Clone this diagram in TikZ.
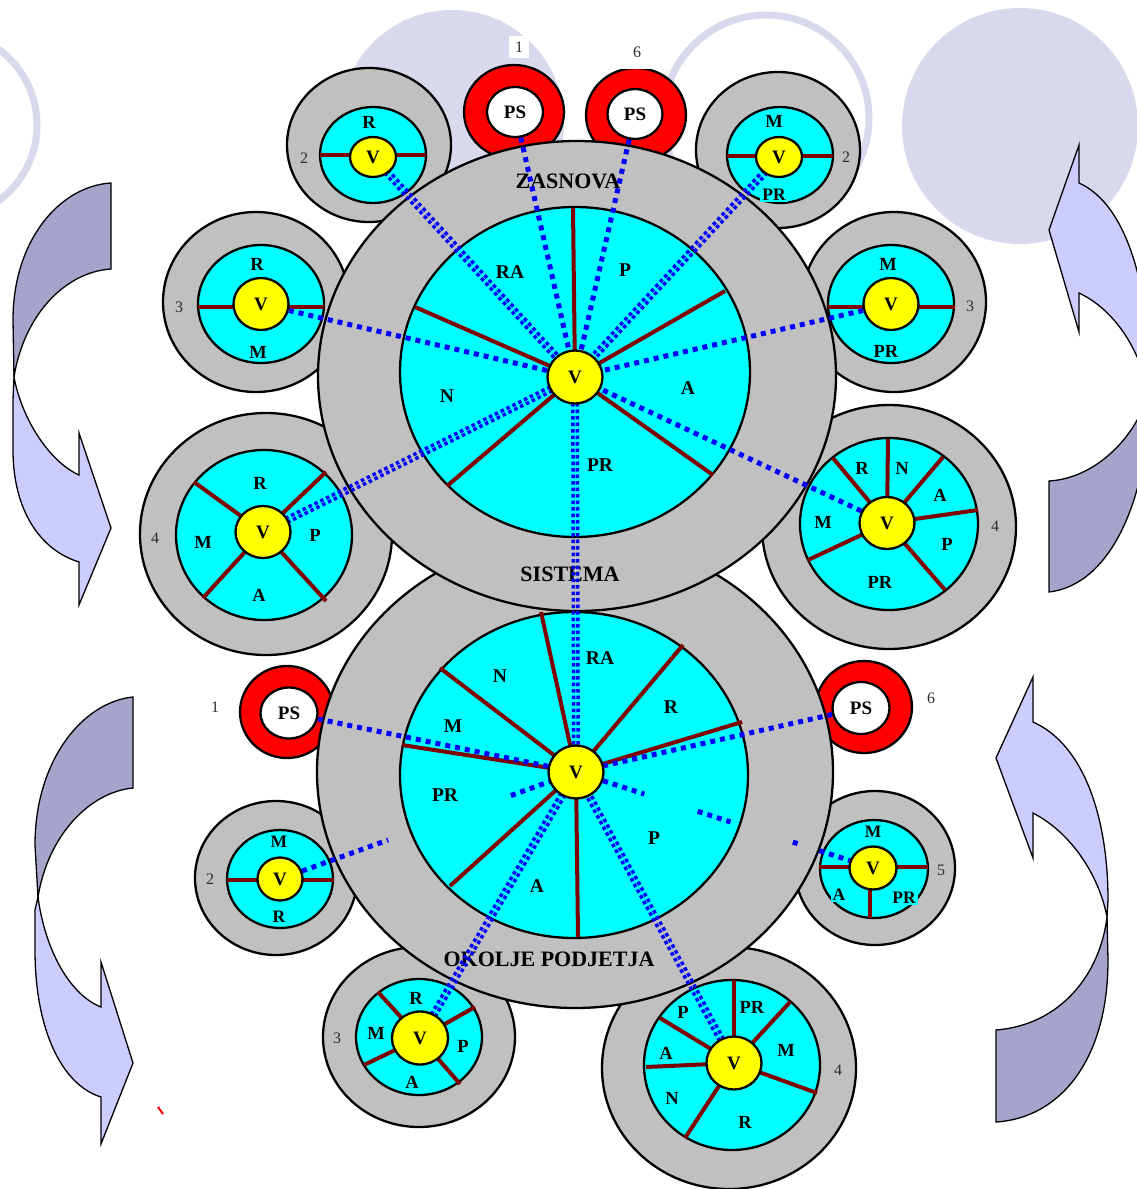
\documentclass[tikz,border=0pt]{standalone}
\usepackage{fontspec}
\setmainfont{Liberation Serif}
\usetikzlibrary{shapes.geometric,calc}
\pgfdeclarelayer{bgl}\pgfdeclarelayer{lin}\pgfdeclarelayer{topl}
\pgfsetlayers{bgl,main,lin,topl}
\definecolor{lav}{RGB}{217,217,238}
\definecolor{arrD}{RGB}{165,165,204}
\definecolor{arrL}{RGB}{204,204,255}
\definecolor{gbg}{RGB}{192,192,192}
\definecolor{cy}{RGB}{0,255,255}
\definecolor{yl}{RGB}{255,255,0}
\definecolor{spk}{RGB}{128,0,0}
\definecolor{rd}{RGB}{255,0,0}
\definecolor{bl}{RGB}{0,0,255}
\definecolor{numc}{RGB}{45,45,45}
\tikzset{
  gdisc/.style={fill=gbg, draw=black, line width=2.3pt},
  cdisc/.style={fill=cy, draw=black, line width=2.3pt},
  rdisc/.style={fill=rd, draw=black, line width=2.3pt},
  spoke/.style={draw=spk, line width=4pt},
  vn/.style={ellipse, fill=yl, draw=black, line width=2.3pt, inner sep=0pt, font=\fontsize{19}{19}\selectfont\bfseries},
  psn/.style={ellipse, fill=white, draw=black, line width=2.3pt, inner sep=0pt, font=\fontsize{19}{19}\selectfont\bfseries},
  lb/.style={inner sep=0pt, font=\fontsize{18.5}{18.5}\selectfont\bfseries},
  lbb/.style={inner sep=0pt, font=\fontsize{19.5}{19.5}\selectfont\bfseries},
  lbc/.style={fill=cy, inner xsep=2pt, inner ysep=1pt, font=\fontsize{17.5}{17.5}\selectfont\bfseries},
  nm/.style={inner sep=1pt, font=\fontsize{16}{16}\selectfont, text=numc},
  big/.style={inner sep=0pt, font=\fontsize{22}{22}\selectfont\bfseries},
  arD/.style={fill=arrD, draw=black, line width=1.3pt},
  arL/.style={fill=arrL, draw=black, line width=1.3pt},
  bd/.style={draw=bl, line width=5pt, dash pattern=on 5pt off 5pt},
  bdd/.style={draw=bl, line width=3.5pt, dash pattern=on 3.5pt off 3pt}
}
\begin{document}
\begin{tikzpicture}[x=1pt,y=-1pt]
\useasboundingbox (0,0) rectangle (1137,1189);

\begin{pgfonlayer}{bgl}
\fill[white] (0,0) rectangle (1137,1189);
% background decorations
\fill[lav] (452,122) circle [radius=112pt];
\draw[lav, line width=7pt] (-57,125) circle [radius=94pt];
\draw[lav, line width=7pt] (766,118) circle [radius=103pt];
\fill[lav] (1020,126) circle [radius=118pt];
% left top arrow
\draw[arD] (111,183) .. controls (60,186) and (13,240) .. (13,320) -- (14,377)
  .. controls (24,315) and (65,272) .. (111,269) -- cycle;
\draw[arL] (14,377) -- (13,400) -- (13,450) .. controls (13,510) and (40,550) .. (79,562)
  -- (79,605) -- (111,528) -- (79,433) -- (79,475) .. controls (50,462) and (22,420) .. (14,377) -- cycle;
% left bottom arrow
\draw[arD] (133,697) .. controls (83,702) and (35,760) .. (35,845) -- (38,897)
  .. controls (48,835) and (90,792) .. (133,788) -- cycle;
\draw[arL] (38,897) -- (35,910) -- (35,950) .. controls (35,1030) and (62,1085) .. (101,1097)
  -- (101,1144) -- (133,1063) -- (101,962) -- (101,1007) .. controls (70,995) and (45,950) .. (38,897) -- cycle;
% right top arrow
\draw[arL] (1079,183) .. controls (1128,205) and (1150,290) .. (1150,385) -- (1148,392)
  .. controls (1140,350) and (1115,310) .. (1079,293) -- (1079,332) -- (1049,230) -- (1079,145) -- cycle;
\draw[arD] (1150,385) .. controls (1150,500) and (1110,585) .. (1049,592) -- (1049,481)
  .. controls (1100,478) and (1140,430) .. (1148,392) -- cycle;
% right bottom arrow
\draw[arL] (1033,722) .. controls (1085,745) and (1108,820) .. (1108,900) -- (1107,917)
  .. controls (1100,880) and (1075,835) .. (1033,813) -- (1033,858) -- (996,758) -- (1033,677) -- cycle;
\draw[arD] (1107,917) -- (1108,960) .. controls (1108,1060) and (1060,1118) .. (996,1122) -- (996,1030)
  .. controls (1060,1025) and (1100,975) .. (1107,917) -- cycle;
\end{pgfonlayer}

% ---------- upper satellites ----------
% u2L
\draw[gdisc] (369,145) ellipse [x radius=82pt, y radius=77pt];
\draw[cdisc] (373,155) ellipse [x radius=53pt, y radius=48pt];
\draw[spoke] (320,155) -- (426,155);
\node[lb] (u2Lr) at (369,122) {R};
\node[nm] (u2Ln) at (304,158) {2};
% u2R
\draw[gdisc] (778,150) ellipse [x radius=82pt, y radius=78pt];
\draw[cdisc] (780,155) ellipse [x radius=53pt, y radius=48pt];
\draw[spoke] (727,156) -- (833,156);
\node[lb] (u2Rm) at (774,121) {M};
\node[lbc] (u2Rp) at (774,195) {PR};
\node[nm] (u2Rn) at (846,157) {2};
% PS rings top
\draw[rdisc] (514,112) ellipse [x radius=50pt, y radius=47pt];
\draw[rdisc] (636,115) ellipse [x radius=50pt, y radius=47pt];
\node[nm, fill=white, minimum width=20pt, minimum height=22pt] (n1t) at (519,47) {1};
\node[nm, fill=white, minimum width=48pt, minimum height=34pt] (n6t) at (637,52) {6};
% u3L
\draw[gdisc] (256,302) ellipse [x radius=93pt, y radius=90pt];
\draw[cdisc] (261,304) ellipse [x radius=63pt, y radius=59pt];
\draw[spoke] (198,307) -- (324,307);
\node[lb] (u3Lr) at (257,264) {R};
\node[lb] (u3Lm) at (258,352) {M};
\node[nm] (u3Ln) at (179,307) {3};
% u3R
\draw[gdisc] (894,302) ellipse [x radius=92pt, y radius=90pt];
\draw[cdisc] (891,304) ellipse [x radius=63pt, y radius=59pt];
\draw[spoke] (828,307) -- (955,307);
\node[lb] (u3Rm) at (888,264) {M};
\node[lb] (u3Rp) at (886,351) {PR};
\node[nm] (u3Rn) at (970,306) {3};
% u4L
\draw[gdisc] (266,534) ellipse [x radius=126pt, y radius=121pt];
\draw[cdisc] (264,535) ellipse [x radius=88pt, y radius=85pt];
\coordinate (cu4L) at (263,532);
\foreach \p in {(194,482),(326,472),(203,598),(326,601)} \draw[spoke] (cu4L) -- \p;
\node[lb] (u4Lr) at (260,483) {R};
\node[lb] (u4Lm) at (203,542) {M};
\node[lb] (u4Lp) at (315,535) {P};
\node[lb] (u4La) at (259,595) {A};
\node[nm] (u4Ln) at (155,538) {4};
% u4R
\draw[gdisc] (889,527) ellipse [x radius=127pt, y radius=122pt];
\draw[cdisc] (889,524) ellipse [x radius=89pt, y radius=86pt];
\coordinate (cu4R) at (887,523);
\foreach \p in {(888,439),(833,458),(943,457),(978,510),(945,590),(808,560)} \draw[spoke] (cu4R) -- \p;
\node[lb] (u4Rr) at (862,468) {R};
\node[lb] (u4Rnn) at (902,468) {N};
\node[lb] (u4Ra) at (940,495) {A};
\node[lb] (u4Rp) at (947,544) {P};
\node[lb] (u4Rpr) at (880,582) {PR};
\node[lb] (u4Rm) at (823,522) {M};
\node[nm] (u4Rn) at (995,526) {4};

% ---------- lower satellites ----------
\draw[rdisc] (287,712) ellipse [x radius=47pt, y radius=46pt];
\node[nm] (n1l) at (215,707) {1};
\draw[rdisc] (864,707) ellipse [x radius=48pt, y radius=46pt];
\node[nm] (n6l) at (931,698) {6};
% S2L
\draw[gdisc] (276,878) ellipse [x radius=81pt, y radius=77pt];
\draw[cdisc] (280,879) ellipse [x radius=53pt, y radius=49pt];
\draw[spoke] (227,880) -- (334,880);
\node[lbc] (s2m) at (279,842) {M};
\node[lbc] (s2r) at (279,917) {R};
\node[nm] (s2n) at (210,879) {2};
% S5
\draw[gdisc] (875,868) ellipse [x radius=80pt, y radius=77pt];
\draw[cdisc] (874,869) ellipse [x radius=54pt, y radius=49pt];
\draw[spoke] (819,867) -- (928,867);
\draw[spoke] (870,868) -- (870,918);
\node[lbc] (s5m) at (873,832) {M};
\node[lbc] (s5a) at (839,895) {A};
\node[lbc] (s5p) at (904,898) {PR};
\node[nm] (s5n) at (941,870) {5};
% S3L
\draw[gdisc] (419,1037) ellipse [x radius=96pt, y radius=90pt];
\draw[cdisc] (419,1037) ellipse [x radius=63pt, y radius=58pt];
\coordinate (cs3) at (420,1038);
\foreach \p in {(378,992),(475,1007),(364,1065),(460,1084)} \draw[spoke] (cs3) -- \p;
\node[lb] (s3r) at (416,998) {R};
\node[lb] (s3m) at (376,1033) {M};
\node[lb] (s3p) at (463,1046) {P};
\node[lb] (s3a) at (412,1082) {A};
\node[nm] (s3n) at (337,1038) {3};
% S4L
\draw[gdisc] (729,1068) ellipse [x radius=127pt, y radius=121pt];
\draw[cdisc] (732,1065) ellipse [x radius=88pt, y radius=85pt];
\coordinate (cs4) at (734,1063);
\foreach \p in {(734,980),(790,1002),(817,1093),(685,1138),(646,1067),(660,1018)} \draw[spoke] (cs4) -- \p;
\node[lb] (s4p) at (683,1012) {P};
\node[lb] (s4pr) at (752,1007) {PR};
\node[lb] (s4m) at (786,1050) {M};
\node[lb] (s4a) at (666,1053) {A};
\node[lb] (s4nn) at (672,1098) {N};
\node[lb] (s4r) at (745,1122) {R};
\node[nm] (s4n) at (838,1070) {4};

% ---------- big lower ----------
\draw[gdisc] (575,772) ellipse [x radius=258pt, y radius=236pt];
\draw[cdisc] (574,775) ellipse [x radius=174pt, y radius=163pt];
\coordinate (cl) at (576,772);
\foreach \p in {(541,612),(683,645),(742,722),(578,937),(450,886),(402,745),(440,668)} \draw[spoke] (cl) -- \p;
\node[lbb] (lra) at (600,658) {RA};
\node[lbb] (lnn) at (500,676) {N};
\node[lbb] (lr) at (671,707) {R};
\node[lbb] (lm) at (453,726) {M};
\node[lbb] (lpr) at (445,795) {PR};
\node[lbb] (lp) at (654,838) {P};
\node[lbb] (la) at (537,886) {A};
\node[big] (okolje) at (549,959) {OKOLJE PODJETJA};

% ---------- big upper ----------
\draw[gdisc] (577,376) ellipse [x radius=259pt, y radius=235pt];
\draw[cdisc] (575,372) ellipse [x radius=175pt, y radius=165pt];
\coordinate (cu) at (575,377);
\foreach \p in {(573,208),(725,291),(713,475),(447,486),(415,307)} \draw[spoke] (cu) -- \p;
\node[lbb] (ura) at (510,272) {RA};
\node[lbb] (up) at (625,270) {P};
\node[lbb] (ua) at (688,388) {A};
\node[lbb] (upr) at (600,465) {PR};
\node[lbb] (unn) at (447,396) {N};
\node[big] (zasnova) at (568,181) {ZASNOVA};
\node[big] (sistema) at (570,574) {SISTEMA};

\draw[rd, line width=2pt] (158,1107) -- (163,1114);

% ---------- top layer: V and PS nodes ----------
\begin{pgfonlayer}{topl}
\node[vn, minimum width=46pt, minimum height=40pt] (u2LV) at (373,157) {V};
\node[vn, minimum width=46pt, minimum height=40pt] (u2RV) at (779,157) {V};
\node[psn, minimum width=56pt, minimum height=50pt] (ps1) at (515,112) {PS};
\node[psn, minimum width=55pt, minimum height=50pt] (ps6) at (635,114) {PS};
\node[vn, minimum width=55pt, minimum height=52pt] (u3LV) at (261,304) {V};
\node[vn, minimum width=55pt, minimum height=52pt] (u3RV) at (891,304) {V};
\node[vn, minimum width=55pt, minimum height=52pt] (u4LV) at (cu4L) {V};
\node[vn, minimum width=55pt, minimum height=52pt] (u4RV) at (cu4R) {V};
\node[psn, minimum width=57pt, minimum height=51pt] (ps1l) at (289,713) {PS};
\node[psn, minimum width=57pt, minimum height=52pt] (ps6l) at (861,708) {PS};
\node[vn, minimum width=45pt, minimum height=43pt] (s2V) at (280,879) {V};
\node[vn, minimum width=47pt, minimum height=43pt] (s5V) at (873,868) {V};
\node[vn, minimum width=56pt, minimum height=53pt] (s3V) at (cs3) {V};
\node[vn, minimum width=55pt, minimum height=53pt] (s4V) at (cs4) {V};
\node[vn, minimum width=55pt, minimum height=53pt] (Vl) at (cl) {V};
\node[vn, minimum width=55pt, minimum height=53pt] (Vu) at (cu) {V};
\end{pgfonlayer}

% ---------- dotted connectors ----------
\begin{pgfonlayer}{lin}
\draw[bd] (ps1) -- (Vu);
\draw[bd] (ps6) -- (Vu);
\draw[bd] (u3LV) -- (Vu);
\draw[bd] (u3RV) -- (Vu);
\draw[bd] (u4RV) -- (Vu);
\foreach \a/\b in {u2LV/Vu, u2RV/Vu, u4LV/Vu, Vu/Vl, s3V/Vl, s4V/Vl}{
  \draw[bdd] ($(\a.center)!2.2pt!90:(\b.center)$) -- ($(\b.center)!2.2pt!-90:(\a.center)$);
  \draw[bdd] ($(\a.center)!2.2pt!-90:(\b.center)$) -- ($(\b.center)!2.2pt!90:(\a.center)$);
}
\draw[bd] (ps1l) -- (Vl);
\draw[bd] (ps6l) -- (Vl);
\draw[bd] (s2V) -- ($(s2V.center)!0.365!(Vl.center)$);
\draw[bd] ($(s2V.center)!0.78!(Vl.center)$) -- (Vl);
\draw[bd] (Vl) -- ($(Vl.center)!0.23!(s5V.center)$);
\draw[bd] ($(Vl.center)!0.41!(s5V.center)$) -- ($(Vl.center)!0.52!(s5V.center)$);
\draw[bd] ($(Vl.center)!0.73!(s5V.center)$) -- ($(Vl.center)!0.76!(s5V.center)$);
\draw[bd] ($(Vl.center)!0.82!(s5V.center)$) -- (s5V);
\end{pgfonlayer}
\end{tikzpicture}
\end{document}
